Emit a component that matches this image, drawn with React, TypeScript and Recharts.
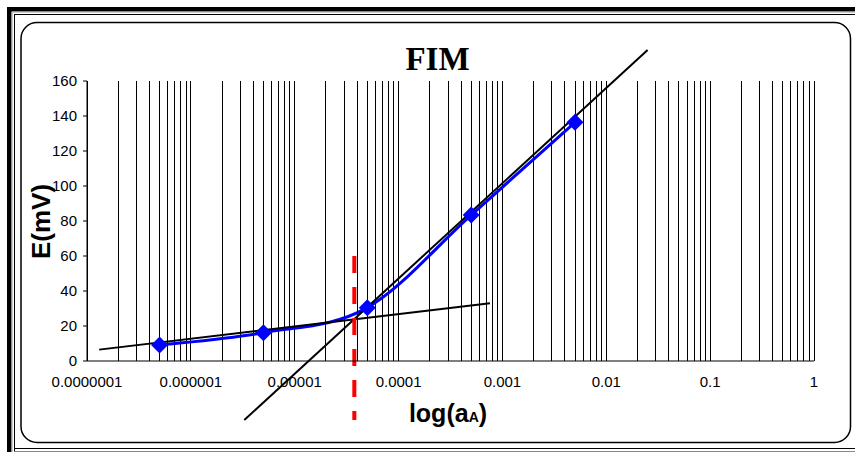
import React from "react";
import { LineChart, Line, XAxis, YAxis, CartesianGrid, ReferenceLine } from "recharts";

// Measured electrode response: activity of A vs. potential
const activity = [5e-7, 5e-6, 5e-5, 5e-4, 5e-3];
const potential = [9.1, 16.2, 30.5, 83.4, 136.4];

// Axis ticks
const decades = [1e-7, 1e-6, 1e-5, 1e-4, 1e-3, 1e-2, 1e-1, 1];
const decadeLabels = ["0.0000001", "0.000001", "0.00001", "0.0001", "0.001", "0.01", "0.1", "1"];
const yTicks = [0, 20, 40, 60, 80, 100, 120, 140, 160];

// Fitted tangent lines (start / end points)
const lowSlopeLine = [
  { x: 1.31e-7, y: 6.5 },
  { x: 7.59e-4, y: 33.0 },
];
const nernstLine = [
  { x: 3.27e-6, y: -33.7 },
  { x: 2.5e-2, y: 177.7 },
];
// Detection limit marker
const detectionLimit = 3.75e-5;
const detectionLimitSpan = [60, -33.7];

const rows = activity.map((a, i) => ({ a, e: potential[i] }));

// log grid: 1..9 x every decade
const gridTicks: number[] = [];
decades.forEach((d, i) => {
  if (i === decades.length - 1) {
    gridTicks.push(d);
    return;
  }
  for (let k = 1; k <= 9; k++) gridTicks.push(k * d);
});

const formatDecade = (v: number) => {
  const idx = decades.findIndex((d) => Math.abs(Math.log10(v) - Math.log10(d)) < 1e-6);
  return idx >= 0 ? decadeLabels[idx] : "";
};

// Smooth curve through points with cubic Bezier segments (Catmull-Rom style)
const smoothCurve = (context: any) => {
  let pts: [number, number][] = [];
  return {
    areaStart() {},
    areaEnd() {},
    lineStart() {
      pts = [];
    },
    lineEnd() {
      const n = pts.length;
      if (!n) return;
      context.moveTo(pts[0][0], pts[0][1]);
      for (let i = 0; i < n - 1; i++) {
        const p0 = pts[Math.max(i - 1, 0)];
        const p1 = pts[i];
        const p2 = pts[i + 1];
        const p3 = pts[Math.min(i + 2, n - 1)];
        context.bezierCurveTo(
          p1[0] + (p2[0] - p0[0]) / 6,
          p1[1] + (p2[1] - p0[1]) / 6,
          p2[0] - (p3[0] - p1[0]) / 6,
          p2[1] - (p3[1] - p1[1]) / 6,
          p2[0],
          p2[1]
        );
      }
    },
    point(x: number, y: number) {
      pts.push([+x, +y]);
    },
  };
};

const Diamond = (props: any) => {
  const { cx, cy } = props;
  if (cx == null || cy == null) return null;
  const r = 8.5;
  return (
    <polygon
      points={`${cx},${cy - r} ${cx + r},${cy} ${cx},${cy + r} ${cx - r},${cy}`}
      fill="#0000FF"
      stroke="none"
    />
  );
};

const sans = "'Liberation Sans', Arial, sans-serif";

export default function App() {
  return (
    <div
      style={{
        position: "absolute",
        left: 0,
        top: 0,
        width: 855,
        height: 452,
        background: "#fff",
        overflow: "hidden",
      }}
    >
      {/* frame */}
      <svg width={855} height={452} style={{ position: "absolute", left: 0, top: 0 }}>
        <line x1={7} y1={9.25} x2={855} y2={9.25} stroke="#000" strokeWidth={4.5} />
        <line x1={9.25} y1={7} x2={9.25} y2={452} stroke="#000" strokeWidth={4.5} />
        <line x1={12} y1={12} x2={855} y2={12} stroke="#999" strokeWidth={1} />
        <line x1={12} y1={12} x2={12} y2={452} stroke="#999" strokeWidth={1} />
        <line x1={14} y1={14.5} x2={855} y2={14.5} stroke="#000" strokeWidth={1} />
        <line x1={14.5} y1={14} x2={14.5} y2={452} stroke="#000" strokeWidth={1} />
        <line x1={14} y1={448.5} x2={855} y2={448.5} stroke="#000" strokeWidth={1} />
        <line x1={14} y1={451.5} x2={855} y2={451.5} stroke="#888" strokeWidth={1} />
        <rect x={21} y={22.5} width={829.5} height={420} rx={16} ry={16} fill="none" stroke="#000" strokeWidth={1.5} />
      </svg>

      <div style={{ position: "absolute", left: 0, top: 0 }}>
        <LineChart width={855} height={452} data={rows} margin={{ top: 81, right: 41, bottom: 61, left: 57 }}>
          <CartesianGrid horizontal={false} vertical stroke="#000" strokeWidth={1} shapeRendering="crispEdges" />
          <XAxis
            dataKey="a"
            type="number"
            scale="log"
            domain={[1e-7, 1]}
            allowDataOverflow
            ticks={gridTicks}
            interval={0}
            tickFormatter={formatDecade}
            tickLine={false}
            axisLine={{ stroke: "#000", strokeWidth: 1 }}
            height={30}
            tickMargin={9}
            tick={{ fill: "#000", fontSize: 15, fontFamily: sans }}
          />
          <YAxis
            type="number"
            domain={[0, 160]}
            ticks={yTicks}
            interval={0}
            width={30}
            tickSize={4}
            tickMargin={6}
            axisLine={{ stroke: "#000", strokeWidth: 1 }}
            tickLine={{ stroke: "#000", strokeWidth: 1 }}
            tick={{ fill: "#000", fontSize: 15, fontFamily: sans }}
          />
          <Line
            dataKey="e"
            type={smoothCurve as any}
            stroke="#0000FF"
            strokeWidth={3}
            dot={<Diamond />}
            activeDot={false}
            isAnimationActive={false}
          />
          <ReferenceLine
            segment={lowSlopeLine}
            stroke="#000"
            strokeWidth={2}
            ifOverflow="visible"
          />
          <ReferenceLine
            segment={nernstLine}
            stroke="#000"
            strokeWidth={2}
            ifOverflow="visible"
          />
          <ReferenceLine
            segment={[
              { x: detectionLimit, y: detectionLimitSpan[0] },
              { x: detectionLimit, y: detectionLimitSpan[1] },
            ]}
            stroke="#FF0000"
            strokeWidth={4}
            strokeDasharray="17 14"
            ifOverflow="visible"
          />
        </LineChart>
      </div>

      {/* titles */}
      <svg width={855} height={452} style={{ position: "absolute", left: 0, top: 0, pointerEvents: "none" }}>
        <text
          x={437.5}
          y={70}
          textAnchor="middle"
          fontFamily="'Liberation Serif', 'Times New Roman', serif"
          fontWeight="bold"
          fontSize={33}
          fill="#000"
        >
          FIM
        </text>
        <text
          transform="translate(50, 221.5) rotate(-90)"
          textAnchor="middle"
          fontFamily={sans}
          fontWeight="bold"
          fontSize={26}
          fill="#000"
        >
          E(mV)
        </text>
        <text x={448} y={421.7} textAnchor="middle" fontFamily={sans} fontWeight="bold" fontSize={25} fill="#000">
          log(a<tspan fontSize={14}>A</tspan>)
        </text>
      </svg>
    </div>
  );
}
